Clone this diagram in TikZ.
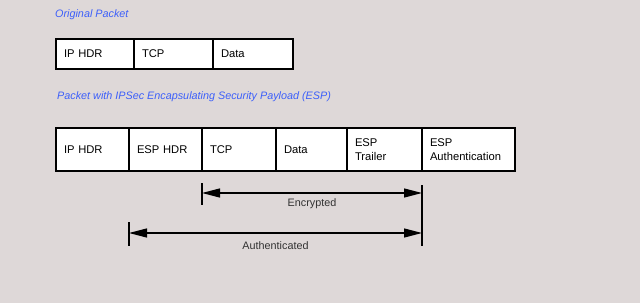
\documentclass[tikz,border=0pt]{standalone}
\usepackage{fontspec}
\setmainfont{Liberation Sans}
\usetikzlibrary{arrows.meta,positioning,calc}
\definecolor{bgpink}{RGB}{222,216,216}
\definecolor{capblue}{RGB}{60,95,250}
\definecolor{lblgray}{RGB}{50,50,50}

\begin{document}
\begin{tikzpicture}[
        x=1pt, y=1pt,
        field/.style={draw=black, line width=1.2pt, fill=white, outer sep=0pt, inner xsep=8pt, inner ysep=0pt, align=left, font=\fontsize{11.2}{14}\selectfont},
        caption/.style={anchor=west, inner sep=0pt, text=capblue, font=\fontsize{10.8}{13}\selectfont\itshape},
        span/.style={{Triangle[length=18pt,width=9pt]}-{Triangle[length=18pt,width=9pt]}, line width=1.3pt},
        tick/.style={line width=2pt},
        spanlabel/.style={midway, text=lblgray, font=\fontsize{10.8}{13}\selectfont}
    ]
        % Background
        \fill[bgpink] (0,0) rectangle (640,-303);

        % Original packet
        \node[caption] (origcap) at (55,-15) {Original Packet};
        \node[field, text width=62pt, minimum height=30pt, anchor=west] (oip) at (56,-54) {IP HDR};
        \node[field, text width=63pt, minimum height=30pt, right=0pt of oip] (otcp) {TCP};
        \node[field, text width=64pt, minimum height=30pt, right=0pt of otcp] (odata) {Data};

        % Packet with ESP
        \node[caption] (espcap) at (57,-97) {Packet with IPSec Encapsulating Security Payload (ESP)};
        \node[field, text width=57pt, minimum height=43pt, anchor=west] (eip) at (56,-149.5) {IP HDR};
        \node[field, text width=57pt, minimum height=43pt, right=0pt of eip] (ehdr) {ESP HDR};
        \node[field, text width=58pt, minimum height=43pt, right=0pt of ehdr] (etcp) {TCP};
        \node[field, text width=55pt, minimum height=43pt, right=0pt of etcp] (edata) {Data};
        \node[field, text width=59pt, minimum height=43pt, right=0pt of edata] (etrl) {ESP\\Trailer};
        \node[field, text width=77pt, minimum height=43pt, right=0pt of etrl] (eauth) {ESP\\Authentication};

        % Span end points
        \coordinate (encL) at ($(etcp.south west)+(0,-22)$);
        \coordinate (encR) at (encL -| eauth.west);
        \coordinate (authL) at ($(ehdr.south west)+(0,-62)$);
        \coordinate (authR) at (authL -| eauth.west);

        % Ticks
        \draw[tick] ($(encL)+(0,10)$) -- ($(encL)+(0,-12)$);
        \draw[tick] ($(authL)+(0,11)$) -- ($(authL)+(0,-13)$);
        \draw[tick] ($(encR)+(0,8)$) -- ($(authR)+(0,-13)$);

        % Spans
        \draw[span] (encL) -- node[spanlabel, yshift=-11pt] {Encrypted} (encR);
        \draw[span] (authL) -- node[spanlabel, yshift=-13pt] {Authenticated} (authR);
    \end{tikzpicture}
\end{document}
